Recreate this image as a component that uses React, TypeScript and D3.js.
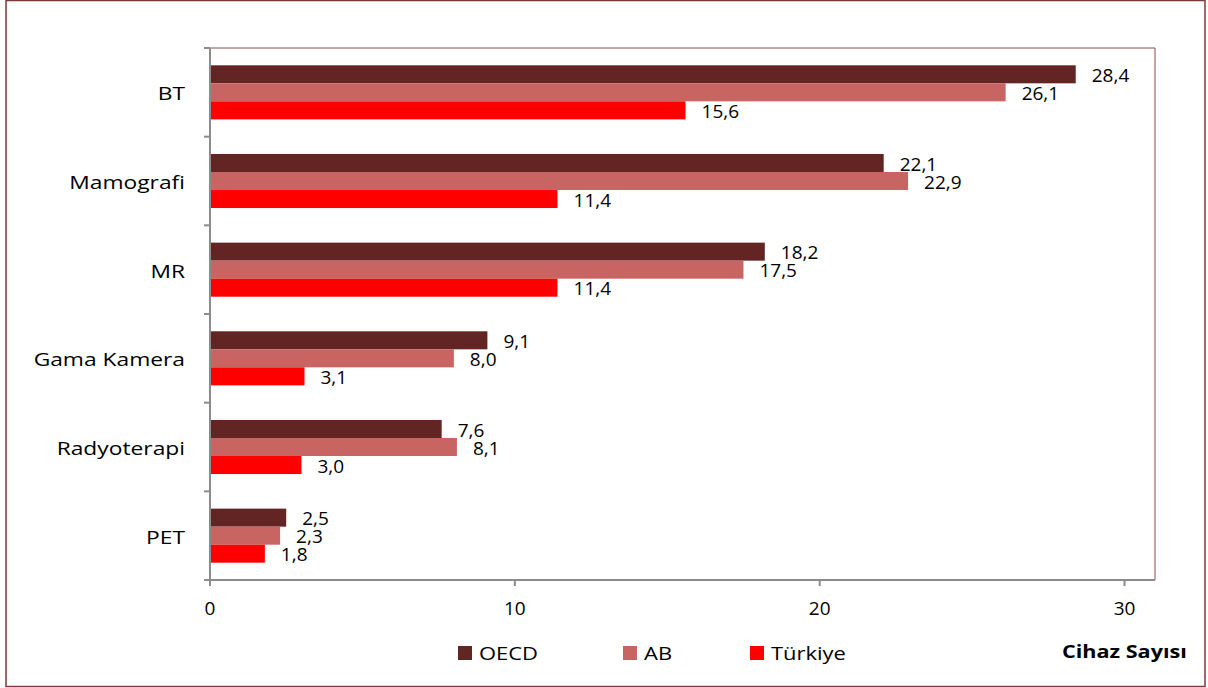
import React from "react";
import * as d3 from "d3";

const categories = ["BT", "Mamografi", "MR", "Gama Kamera", "Radyoterapi", "PET"];
const seriesNames = ["OECD", "AB", "Türkiye"];
const oecd = [28.4, 22.1, 18.2, 9.1, 7.6, 2.5];
const ab = [26.1, 22.9, 17.5, 8.0, 8.1, 2.3];
const turkiye = [15.6, 11.4, 11.4, 3.1, 3.0, 1.8];
const xTicks = [0, 10, 20, 30];
const colors = ["#632523", "#C86462", "#FF0000"];
const axisTitle = "Cihaz Sayısı";

const W = 1208;
const H = 688;
const plot = { left: 210, right: 1155, top: 48, bottom: 580 };
const FONT = "'Open Sans', 'Noto Sans', sans-serif";
const SX = 1.2;

export default function App() {
  const x = d3.scaleLinear().domain([0, 31]).range([plot.left, plot.right]);
  const y = d3.scaleBand().domain(categories).range([plot.top, plot.bottom]).paddingInner(0).paddingOuter(0);
  const inner = d3
    .scaleBand()
    .domain(seriesNames)
    .range([0, y.bandwidth()])
    .paddingInner(0)
    .paddingOuter(0.96);
  const values = [oecd, ab, turkiye];
  const fmt = (v: number) => v.toFixed(1).replace(".", ",");
  const boundaries = d3.range(categories.length + 1).map((i) => plot.top + i * y.step());

  const legendX = [458, 623, 750];

  return (
    <div style={{ position: "absolute", left: 0, top: 0 }}>
      <svg width={W} height={H} style={{ display: "block", background: "#fff" }}>
        <rect x={6} y={0.5} width={1199} height={686} fill="#fff" stroke="#7a3b3b" strokeWidth={1.5} />
        {/* plot area border top/right */}
        <line x1={plot.left} x2={plot.right} y1={plot.top} y2={plot.top} stroke="#8a4a4a" strokeWidth={1} />
        <line x1={plot.right} x2={plot.right} y1={plot.top} y2={plot.bottom} stroke="#8a4a4a" strokeWidth={1} />

        {/* bars */}
        {categories.map((c, ci) =>
          seriesNames.map((s, si) => {
            const v = values[si][ci];
            const by = (y(c) as number) + (inner(s) as number);
            return (
              <g key={c + s}>
                <rect x={x(0)} y={by} width={x(v) - x(0)} height={inner.bandwidth()} fill={colors[si]} />
                <text
                  x={x(v) + 16}
                  y={by + inner.bandwidth() / 2}
                  dy="0.4em"
                  fontFamily={FONT}
                  fontSize={19}
                  fill="#000"
                >
                  {fmt(v)}
                </text>
              </g>
            );
          })
        )}

        {/* axes */}
        <line x1={plot.left} x2={plot.left} y1={plot.top} y2={plot.bottom + 6} stroke="#8c8c8c" strokeWidth={2} />
        <line x1={plot.left - 6} x2={plot.right} y1={plot.bottom} y2={plot.bottom} stroke="#8c8c8c" strokeWidth={2} />
        {boundaries.map((b, i) => (
          <line key={"yt" + i} x1={plot.left - 6} x2={plot.left} y1={b} y2={b} stroke="#8c8c8c" strokeWidth={2} />
        ))}
        {xTicks.map((t) => (
          <g key={"xt" + t}>
            <line x1={x(t)} x2={x(t)} y1={plot.bottom} y2={plot.bottom + 6} stroke="#8c8c8c" strokeWidth={2} />
            <text x={x(t)} y={615} textAnchor="middle" fontFamily={FONT} fontSize={19} fill="#000">
              {t}
            </text>
          </g>
        ))}

        {/* category labels */}
        {categories.map((c) => (
          <text
            key={"cl" + c}
            transform={`translate(185,${(y(c) as number) + y.bandwidth() / 2 + 8}) scale(${SX},1)`}
            textAnchor="end"
            fontFamily={FONT}
            fontSize={19}
            fill="#000"
          >
            {c}
          </text>
        ))}

        {/* legend */}
        {seriesNames.map((s, i) => (
          <g key={"lg" + s}>
            <rect x={legendX[i]} y={646} width={14} height={14} fill={colors[i]} />
            <text
              transform={`translate(${legendX[i] + 21},660) scale(1.22,1)`}
              fontFamily={FONT}
              fontSize={18}
              fill="#000"
            >
              {s}
            </text>
          </g>
        ))}
        <text
          transform={`translate(1062,658) scale(1.2,1)`}
          fontFamily={FONT}
          fontSize={18}
          fontWeight="bold"
          fill="#000"
        >
          {axisTitle}
        </text>
      </svg>
    </div>
  );
}
